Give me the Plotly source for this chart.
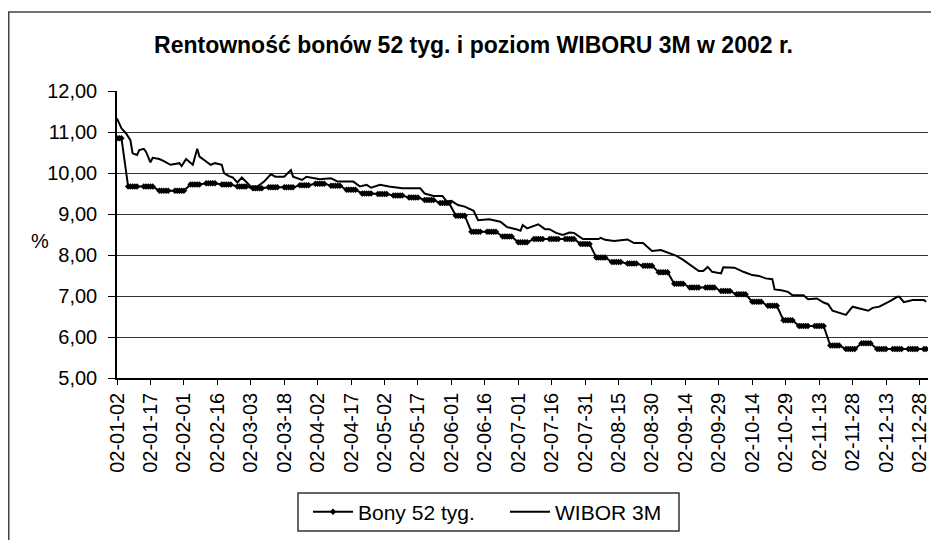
import pandas as pd
import plotly.graph_objects as go

TITLE = "Rentowność bonów 52 tyg. i poziom WIBORU 3M w 2002 r."
FONT = "Liberation Sans, Arial, sans-serif"

# 52-week T-bill yield, one row per week (business days), 2002-01-02 .. 2002-12-31
bony_52 = [
    10.85, 10.85, 10.85,
    9.67, 9.67, 9.67, 9.67, 9.67,
    9.67, 9.67, 9.67, 9.67, 9.67,
    9.57, 9.57, 9.57, 9.57, 9.57,
    9.57, 9.57, 9.57, 9.57, 9.57,
    9.72, 9.72, 9.72, 9.72, 9.72,
    9.75, 9.75, 9.75, 9.75, 9.75,
    9.72, 9.72, 9.72, 9.72, 9.72,
    9.67, 9.67, 9.67, 9.67, 9.67,
    9.63, 9.63, 9.63, 9.63, 9.63,
    9.65, 9.65, 9.65, 9.65, 9.65,
    9.65, 9.65, 9.65, 9.65, 9.65,
    9.70, 9.70, 9.70, 9.70, 9.70,
    9.74, 9.74, 9.74, 9.74, 9.74,
    9.69, 9.69, 9.69, 9.69, 9.69,
    9.59, 9.59, 9.59, 9.59, 9.59,
    9.50, 9.50, 9.50, 9.50, 9.50,
    9.49, 9.49, 9.49, 9.49, 9.49,
    9.45, 9.45, 9.45, 9.45, 9.45,
    9.40, 9.40, 9.40, 9.40, 9.40,
    9.34, 9.34, 9.34, 9.34, 9.34,
    9.27, 9.27, 9.27, 9.27, 9.27,
    8.96, 8.96, 8.96, 8.96, 8.96,
    8.57, 8.57, 8.57, 8.57, 8.57,
    8.57, 8.57, 8.57, 8.57, 8.57,
    8.45, 8.45, 8.45, 8.45, 8.45,
    8.31, 8.31, 8.31, 8.31, 8.31,
    8.39, 8.39, 8.39, 8.39, 8.39,
    8.39, 8.39, 8.39, 8.39, 8.39,
    8.39, 8.39, 8.39, 8.39, 8.39,
    8.27, 8.27, 8.27, 8.27, 8.27,
    7.94, 7.94, 7.94, 7.94, 7.94,
    7.83, 7.83, 7.83, 7.83, 7.83,
    7.79, 7.79, 7.79, 7.79, 7.79,
    7.74, 7.74, 7.74, 7.74, 7.74,
    7.58, 7.58, 7.58, 7.58, 7.58,
    7.30, 7.30, 7.30, 7.30, 7.30,
    7.21, 7.21, 7.21, 7.21, 7.21,
    7.21, 7.21, 7.21, 7.21, 7.21,
    7.12, 7.12, 7.12, 7.12, 7.12,
    7.04, 7.04, 7.04, 7.04, 7.04,
    6.86, 6.86, 6.86, 6.86, 6.86,
    6.76, 6.76, 6.76, 6.76, 6.76,
    6.41, 6.41, 6.41, 6.41, 6.41,
    6.27, 6.27, 6.27, 6.27, 6.27,
    6.27, 6.27, 6.27, 6.27, 6.27,
    5.79, 5.79, 5.79, 5.79, 5.79,
    5.71, 5.71, 5.71, 5.71, 5.71,
    5.85, 5.85, 5.85, 5.85, 5.85,
    5.71, 5.71, 5.71, 5.71, 5.71,
    5.71, 5.71, 5.71, 5.71, 5.71,
    5.71, 5.71, 5.71, 5.71, 5.71,
    5.71, 5.71,
]
bony_dates = pd.bdate_range("2002-01-02", "2002-12-31")

wibor_dates = [
    "2002-01-02", "2002-01-04", "2002-01-06", "2002-01-08", "2002-01-09",
    "2002-01-11", "2002-01-12", "2002-01-14", "2002-01-15", "2002-01-17",
    "2002-01-18", "2002-01-21", "2002-01-23", "2002-01-26", "2002-01-30",
    "2002-01-31", "2002-02-02", "2002-02-05", "2002-02-07", "2002-02-08",
    "2002-02-11", "2002-02-13", "2002-02-15", "2002-02-18", "2002-02-19",
    "2002-02-21", "2002-02-23", "2002-02-25", "2002-02-27", "2002-03-01",
    "2002-03-03", "2002-03-06", "2002-03-09", "2002-03-12", "2002-03-14",
    "2002-03-18", "2002-03-21", "2002-03-22", "2002-03-26", "2002-03-28",
    "2002-04-03", "2002-04-08", "2002-04-11", "2002-04-18", "2002-04-21",
    "2002-04-24", "2002-04-26", "2002-04-30", "2002-05-04", "2002-05-10",
    "2002-05-18", "2002-05-20", "2002-05-24", "2002-05-28", "2002-05-30",
    "2002-06-01", "2002-06-04", "2002-06-07", "2002-06-11", "2002-06-13",
    "2002-06-18", "2002-06-23", "2002-06-26", "2002-06-30", "2002-07-02",
    "2002-07-03", "2002-07-05", "2002-07-10", "2002-07-13", "2002-07-15",
    "2002-07-18", "2002-07-21", "2002-07-24", "2002-07-26", "2002-07-30",
    "2002-08-06", "2002-08-07", "2002-08-09", "2002-08-13", "2002-08-19",
    "2002-08-22", "2002-08-26", "2002-08-28", "2002-08-30", "2002-09-03",
    "2002-09-07", "2002-09-10", "2002-09-13", "2002-09-17", "2002-09-20",
    "2002-09-22", "2002-09-24", "2002-09-26", "2002-09-30", "2002-10-01",
    "2002-10-06", "2002-10-10", "2002-10-14", "2002-10-17", "2002-10-20",
    "2002-10-23", "2002-10-24", "2002-10-27", "2002-10-30", "2002-11-01",
    "2002-11-06", "2002-11-08", "2002-11-12", "2002-11-15", "2002-11-17",
    "2002-11-19", "2002-11-22", "2002-11-25", "2002-11-28", "2002-12-01",
    "2002-12-05", "2002-12-07", "2002-12-10", "2002-12-15", "2002-12-18",
    "2002-12-19", "2002-12-21", "2002-12-25", "2002-12-30", "2002-12-31",
]
wibor_3m = [
    11.33, 11.09, 10.97, 10.80, 10.48,
    10.44, 10.56, 10.59, 10.52, 10.26,
    10.37, 10.34, 10.29, 10.20, 10.24,
    10.17, 10.34, 10.20, 10.59, 10.40,
    10.28, 10.20, 10.24, 10.20, 10.00,
    9.93, 9.89, 9.77, 9.89, 9.79,
    9.67, 9.67, 9.79, 9.97, 9.91,
    9.91, 10.07, 9.91, 9.83, 9.91,
    9.85, 9.87, 9.79, 9.79, 9.67,
    9.71, 9.64, 9.71, 9.67, 9.63,
    9.63, 9.50, 9.44, 9.44, 9.30,
    9.32, 9.22, 9.18, 9.08, 8.85,
    8.87, 8.81, 8.68, 8.63, 8.59,
    8.73, 8.65, 8.75, 8.63, 8.63,
    8.54, 8.49, 8.55, 8.54, 8.39,
    8.39, 8.42, 8.37, 8.34, 8.38,
    8.29, 8.29, 8.19, 8.10, 8.12,
    8.04, 7.98, 7.88, 7.73, 7.61,
    7.61, 7.71, 7.59, 7.55, 7.70,
    7.69, 7.59, 7.51, 7.49, 7.43,
    7.41, 7.16, 7.14, 7.10, 7.02,
    7.02, 6.92, 6.94, 6.84, 6.80,
    6.64, 6.59, 6.54, 6.74, 6.70,
    6.64, 6.71, 6.74, 6.88, 6.98,
    6.98, 6.85, 6.90, 6.90, 6.86,
]

tick_labels = [
    "02-01-02", "02-01-17", "02-02-01", "02-02-16", "02-03-03", "02-03-18",
    "02-04-02", "02-04-17", "02-05-02", "02-05-17", "02-06-01", "02-06-16",
    "02-07-01", "02-07-16", "02-07-31", "02-08-15", "02-08-30", "02-09-14",
    "02-09-29", "02-10-14", "02-10-29", "02-11-13", "02-11-28", "02-12-13",
    "02-12-28",
]
tick_vals = ["20" + t for t in tick_labels]

# page body has an 8px margin, so the figure is 8px smaller than the window
W, H = 931, 532
ML, MT, MR, MB = 109, 83, 11, 162
PW, PH = W - ML - MR, H - MT - MB


def px(x):
    return (x - ML) / PW


def py(y):
    return (MT + PH - y) / PH


fig = go.Figure()
fig.add_trace(go.Scatter(
    x=bony_dates, y=bony_52, name="Bony 52 tyg.",
    mode="lines+markers",
    line=dict(color="black", width=2),
    marker=dict(symbol="diamond", size=5, color="black"),
))
fig.add_trace(go.Scatter(
    x=wibor_dates, y=wibor_3m, name="WIBOR 3M",
    mode="lines",
    line=dict(color="black", width=2),
))

fig.update_layout(
    width=W, height=H,
    margin=dict(l=ML, r=MR, t=MT, b=MB, autoexpand=False),
    paper_bgcolor="white", plot_bgcolor="white",
    separators=", ",
    font=dict(family=FONT, color="black", size=20),
    title=dict(text="<b>" + TITLE + "</b>", x=0.5, xanchor="center",
               y=1 - 37 / H, yanchor="middle",
               font=dict(family=FONT, size=23, color="black")),
    showlegend=True,
    legend=dict(orientation="h", x=px(300), y=py(504),
                xanchor="left", yanchor="middle", borderwidth=0,
                bgcolor="rgba(0,0,0,0)", font=dict(size=21), itemwidth=40,
                entrywidth=142, entrywidthmode="pixels"),
)
fig.update_xaxes(
    type="date", range=["2002-01-02", "2002-12-31 20:00"],
    tickmode="array", tickvals=tick_vals, ticktext=tick_labels,
    tickangle=-90, ticks="outside", ticklen=5, tickcolor="black",
    showline=True, linecolor="black", linewidth=1.5,
    showgrid=False, zeroline=False, automargin=False,
)
fig.update_yaxes(
    range=[5, 12], dtick=1, tickformat=".2f",
    ticks="outside", ticklen=7, tickcolor="black", ticklabelstandoff=7,
    showline=True, linecolor="black", linewidth=1.5,
    showgrid=True, gridcolor="#333", gridwidth=1.3, zeroline=False,
    automargin=False,
)

fig.add_annotation(text="%", xref="paper", yref="paper", x=px(32),
                   y=py(233), xanchor="center", yanchor="middle",
                   showarrow=False, font=dict(size=20))

# outer chart frame
fig.add_shape(type="rect", xref="paper", yref="paper",
              x0=px(0.75), x1=px(W + 20), y0=py(H + 20), y1=py(4),
              line=dict(color="#444", width=1.5), layer="below")
# legend box
fig.add_shape(type="rect", xref="paper", yref="paper",
              x0=px(290), x1=px(671), y0=py(523), y1=py(485),
              line=dict(color="#333", width=1.5), layer="below")

fig.write_html("out.html")
